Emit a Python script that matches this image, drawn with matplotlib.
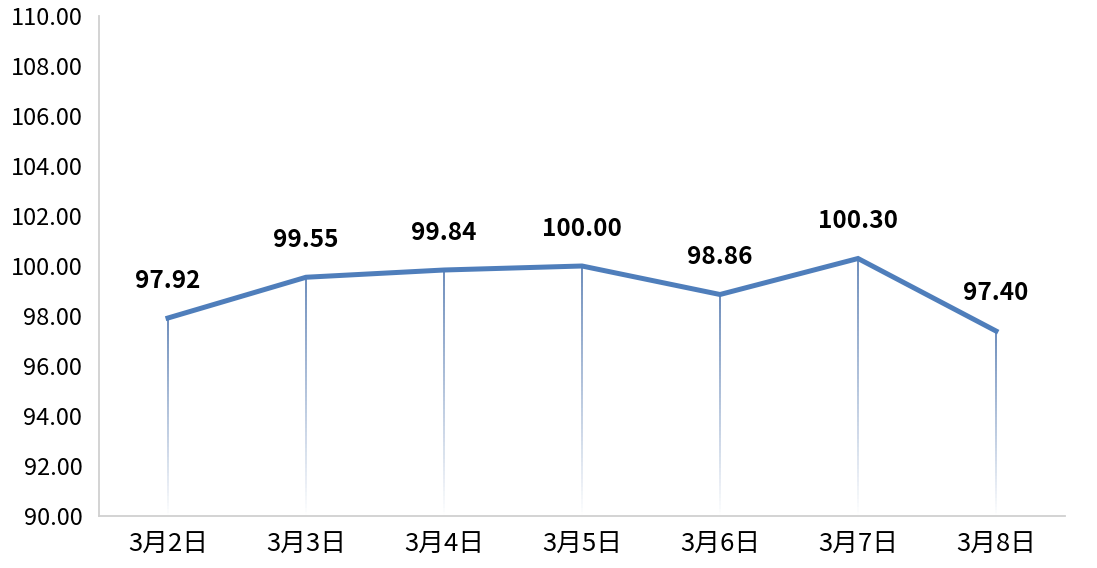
import matplotlib
matplotlib.use("Agg")
import matplotlib.pyplot as plt
import numpy as np
from matplotlib.collections import LineCollection
from matplotlib.colors import to_rgb

plt.rcParams['font.family'] = ['Noto Sans CJK SC', 'DejaVu Sans']

categories = ["3月2日", "3月3日", "3月4日", "3月5日", "3月6日", "3月7日", "3月8日"]
values = [97.92, 99.55, 99.84, 100.00, 98.86, 100.30, 97.40]
yticks = [90, 92, 94, 96, 98, 100, 102, 104, 106, 108, 110]

line_color = "#4f7ebb"
drop_color = to_rgb("#5f82b5")

fig = plt.figure(figsize=(10.97, 5.68), dpi=100)
ax = fig.add_axes([99/1097, 1 - 516/568, (1065-99)/1097, 500/568])

x = np.arange(len(categories))
ymin, ymax = 90, 110

# gradient drop lines
n = 60
for xi, v in zip(x, values):
    ys = np.linspace(ymin, v, n + 1)
    segs = [[(xi, ys[i]), (xi, ys[i + 1])] for i in range(n)]
    t = (np.arange(n) + 0.5) / n
    cols = [(1 - a * (1 - drop_color[0]), 1 - a * (1 - drop_color[1]), 1 - a * (1 - drop_color[2])) for a in t]
    ax.add_collection(LineCollection(segs, colors=cols, linewidths=1.3, zorder=2))

ax.plot(x, values, color=line_color, linewidth=3.6, solid_joinstyle='miter', zorder=3)

for xi, v in zip(x, values):
    ax.annotate(f"{v:.2f}", (xi, v), xytext=(0, 27), textcoords='offset points',
                ha='center', va='center', fontsize=17.5, fontweight='bold', color='black')

ax.set_xlim(-0.5, len(categories) - 0.5)
ax.set_ylim(ymin, ymax)
ax.set_yticks(yticks)
ax.set_yticklabels([f"{t:.2f}" for t in yticks], fontsize=17)
ax.set_xticks(x)
ax.set_xticklabels(categories, fontsize=18.5)
ax.tick_params(axis='both', length=0, colors='black')
ax.tick_params(axis='y', pad=12)
ax.tick_params(axis='x', pad=11)
for s in ['top', 'right']:
    ax.spines[s].set_visible(False)
for s in ['left', 'bottom']:
    ax.spines[s].set_color('#d0d0d0')
    ax.spines[s].set_linewidth(1.3)

fig.savefig("out.png", dpi=100)
